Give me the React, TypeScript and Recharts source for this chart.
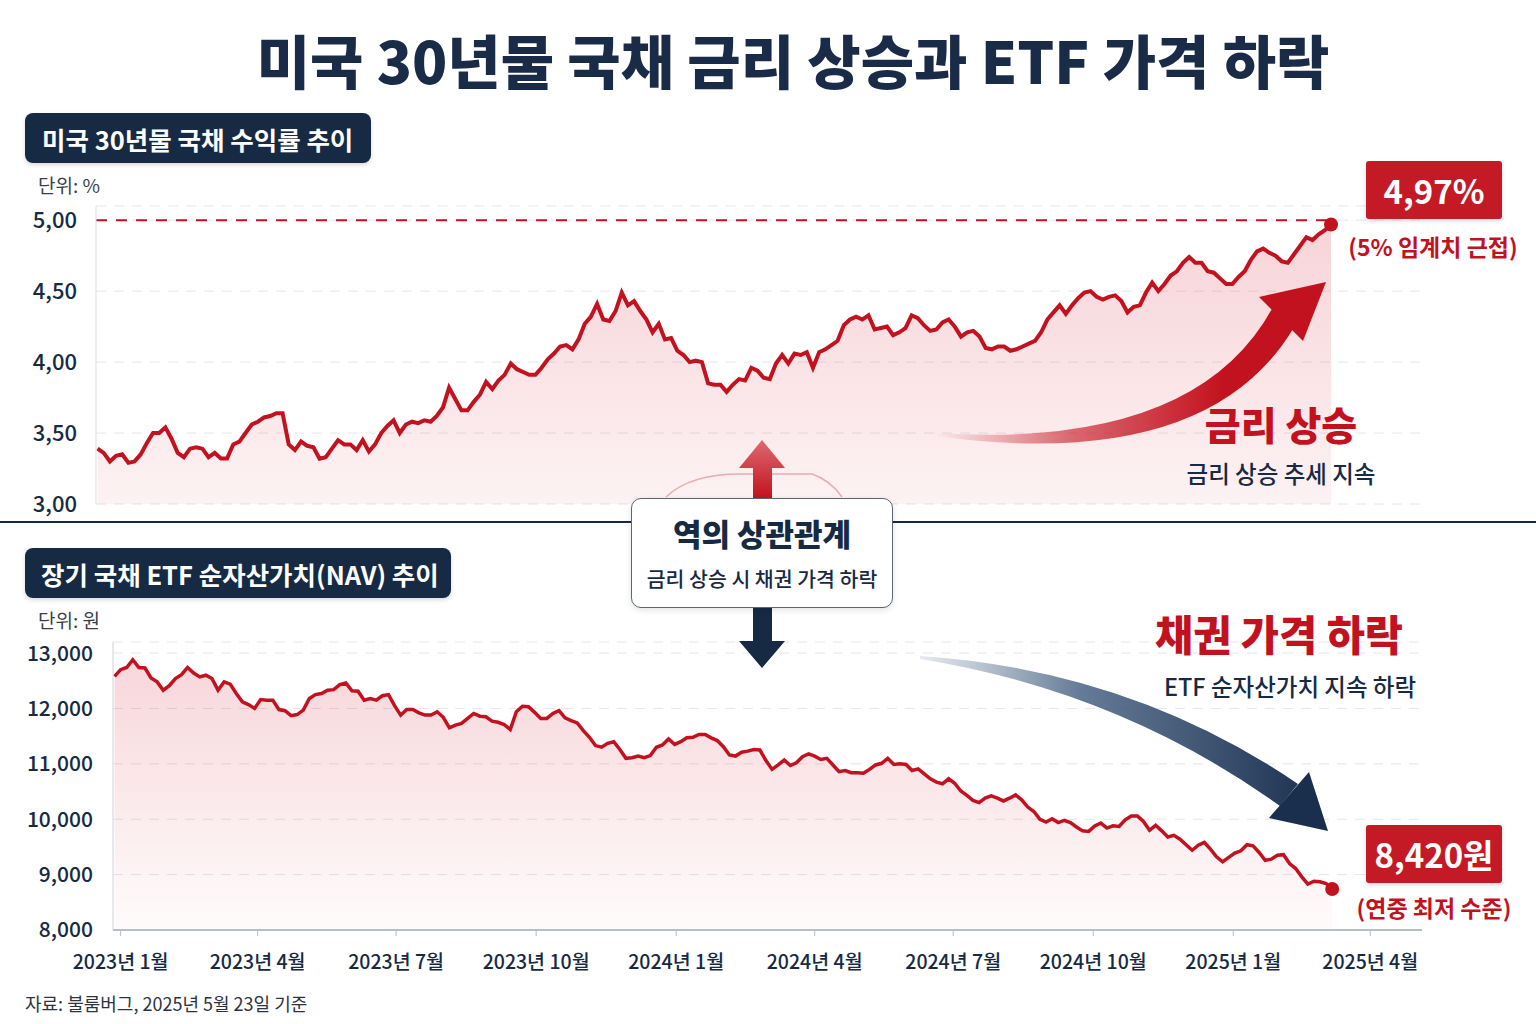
import { Area, AreaChart, CartesianGrid, ReferenceDot, ReferenceLine, XAxis, YAxis } from "recharts";

const FONT = '"Noto Sans CJK KR", "Noto Sans", sans-serif';
const NAVY = "#172a43";
const RED = "#c3121f";

// samples every 4 days, first one on 2022-12-28 (day -4 counted from 2023-01-01)
const START_DAY = -4;
const STEP_DAYS = 4;
const X_DOMAIN = [-5, 855];

// 미국 30년물 국채 수익률 (%)
const yield2023 = [
  3.39, 3.36, 3.3, 3.34, 3.35, 3.29, 3.3, 3.35, 3.43, 3.5,
  3.5, 3.54, 3.46, 3.36, 3.33, 3.39, 3.4, 3.39, 3.33, 3.36,
  3.32, 3.32, 3.42, 3.44, 3.5, 3.56, 3.58, 3.61, 3.62, 3.64,
  3.64, 3.42, 3.38, 3.44, 3.41, 3.4, 3.32, 3.33, 3.39, 3.45,
  3.42, 3.42, 3.38, 3.45, 3.37, 3.42, 3.5, 3.55, 3.59, 3.5,
  3.56, 3.58, 3.57, 3.59, 3.58, 3.62, 3.68, 3.82, 3.74, 3.66,
  3.66, 3.72, 3.77, 3.86, 3.81, 3.87, 3.91, 3.99, 3.95, 3.93,
  3.91, 3.91, 3.96, 4.02, 4.06, 4.11, 4.12, 4.09, 4.16, 4.27,
  4.32, 4.41, 4.3, 4.29, 4.36, 4.49, 4.4, 4.43, 4.36, 4.3,
  4.21, 4.27, 4.16,
];
const yield2024 = [
  4.17, 4.08, 4.05, 4.0, 4.01, 4.0, 3.85,
  3.84, 3.84, 3.79, 3.84, 3.88, 3.87, 3.96, 3.94, 3.89, 3.88,
  3.99, 4.05, 3.99, 4.06, 4.05, 4.07, 3.96, 4.07, 4.09, 4.12,
  4.15, 4.26, 4.3, 4.32, 4.3, 4.33, 4.23, 4.24, 4.25, 4.19,
  4.21, 4.24, 4.33, 4.31, 4.26, 4.22, 4.23, 4.28, 4.3, 4.25,
  4.18, 4.21, 4.22, 4.18, 4.1, 4.09, 4.11, 4.11, 4.08, 4.09,
  4.11, 4.13, 4.15, 4.21, 4.3, 4.35, 4.4, 4.34, 4.4, 4.45,
  4.49, 4.5, 4.46, 4.44, 4.46, 4.47, 4.43, 4.35, 4.39, 4.4,
  4.49, 4.56, 4.5, 4.55, 4.61, 4.64, 4.7, 4.74, 4.7, 4.7,
  4.64, 4.63, 4.59, 4.55,
];
const yield2025 = [
  4.55, 4.6, 4.64, 4.72, 4.78, 4.8, 4.77, 4.75, 4.71, 4.7,
  4.76, 4.82, 4.88, 4.86, 4.9, 4.93, 4.97,
];

// 장기 국채 ETF 순자산가치 (원)
const nav2023 = [
  12580, 12700, 12740, 12880, 12740, 12730, 12550, 12480, 12330, 12410,
  12540, 12610, 12740, 12640, 12570, 12600, 12540, 12330, 12480, 12440,
  12270, 12120, 12070, 12000, 12160, 12150, 12150, 11980, 11960, 11870,
  11890, 11970, 12180, 12250, 12270, 12330, 12340, 12430, 12460, 12320,
  12310, 12150, 12180, 12150, 12230, 12250, 12050, 11880, 11980, 11980,
  11920, 11880, 11880, 11940, 11840, 11650, 11700, 11730, 11820, 11910,
  11860, 11850, 11770, 11750, 11710, 11620, 11940, 12040, 12030, 11930,
  11820, 11820, 11910, 11960, 11830, 11780, 11740, 11600, 11480, 11330,
  11300, 11370, 11400, 11260, 11100, 11110, 11140, 11110, 11150, 11300,
  11340, 11450, 11350,
];
const nav2024 = [
  11400, 11470, 11480, 11530, 11530, 11470, 11420,
  11310, 11160, 11140, 11210, 11230, 11260, 11250, 11060, 10900, 10980,
  11070, 10970, 11020, 11130, 11180, 11140, 11080, 11100, 10980, 10860,
  10880, 10840, 10840, 10830, 10900, 10980, 11010, 11100, 10990, 11000,
  10990, 10880, 10910, 10820, 10730, 10670, 10640, 10730, 10650, 10510,
  10430, 10340, 10300, 10380, 10420, 10380, 10330, 10380, 10440, 10350,
  10220, 10140, 10000, 9950, 10010, 9940, 9980, 9940, 9860, 9790,
  9780, 9880, 9930, 9840, 9880, 9870, 9990, 10060, 10060, 9960,
  9800, 9890, 9790, 9680, 9710, 9640, 9540, 9440, 9530, 9580,
  9460, 9320, 9230, 9310,
];
const nav2025 = [
  9390, 9430, 9540, 9520, 9400, 9260, 9280, 9350, 9360, 9200,
  9110, 8960, 8830, 8880, 8870, 8840, 8740,
];

const tickDates = [
  "2023-01-01", "2023-04-01", "2023-07-01", "2023-10-01", "2024-01-01",
  "2024-04-01", "2024-07-01", "2024-10-01", "2025-01-01", "2025-04-01",
];
const tickLabels = [
  "2023년 1월", "2023년 4월", "2023년 7월", "2023년 10월", "2024년 1월",
  "2024년 4월", "2024년 7월", "2024년 10월", "2025년 1월", "2025년 4월",
];
const yieldTicks = [3, 3.5, 4, 4.5, 5];
const navTicks = [8000, 9000, 10000, 11000, 12000, 13000];
const THRESHOLD = 5;

const dayOf = (iso: string) => (Date.parse(iso) - Date.parse("2023-01-01")) / 86400000;
const tickDays = tickDates.map(dayOf);

const toSeries = (values: number[]) =>
  values.map((value, i) => ({ day: START_DAY + i * STEP_DAYS, value }));

const yieldData = toSeries([...yield2023, ...yield2024, ...yield2025]);
const navData = toSeries([...nav2023, ...nav2024, ...nav2025]);
const lastYield = yieldData[yieldData.length - 1];
const lastNav = navData[navData.length - 1];

function Text({ x, y, size, weight = 500, color = NAVY, align = "center", children }: any) {
  const w = 1400;
  const left = align === "center" ? x - w / 2 : x;
  return (
    <div
      style={{
        position: "absolute",
        left,
        top: y - size / 2,
        width: w,
        fontSize: size,
        lineHeight: `${size}px`,
        fontWeight: weight,
        color,
        textAlign: align,
        whiteSpace: "nowrap",
      }}
    >
      {children}
    </div>
  );
}

function Badge({ x, y, w, h, bg, size, children, align = "center", pad = 0 }: any) {
  return (
    <div
      style={{
        position: "absolute",
        left: x,
        top: y,
        width: w,
        height: h,
        background: bg,
        borderRadius: align === "center" ? 3 : 8,
        color: "#fff",
        fontSize: size,
        fontWeight: 700,
        display: "flex",
        alignItems: "center",
        justifyContent: align === "center" ? "center" : "flex-start",
        paddingLeft: pad,
        boxSizing: "border-box",
        whiteSpace: "nowrap",
        boxShadow: "0 2px 4px rgba(0,0,0,0.15)",
      }}
    >
      {children}
    </div>
  );
}

function Decorations() {
  return (
    <svg width={1536} height={1024} style={{ position: "absolute", left: 0, top: 0, pointerEvents: "none" }}>
      <defs>
        <linearGradient id="redArrow" gradientUnits="userSpaceOnUse" x1={935} y1={0} x2={1320} y2={0}>
          <stop offset="0%" stopColor={RED} stopOpacity={0} />
          <stop offset="35%" stopColor={RED} stopOpacity={0.6} />
          <stop offset="75%" stopColor={RED} stopOpacity={1} />
        </linearGradient>
        <linearGradient id="navyArrow" gradientUnits="userSpaceOnUse" x1={920} y1={0} x2={1320} y2={0}>
          <stop offset="0%" stopColor="#5d7595" stopOpacity={0.15} />
          <stop offset="40%" stopColor="#4a6384" stopOpacity={0.85} />
          <stop offset="100%" stopColor="#1a2f4e" stopOpacity={1} />
        </linearGradient>
        <linearGradient id="upArrow" x1="0" y1="0" x2="0" y2="1">
          <stop offset="0%" stopColor="#dc6a70" />
          <stop offset="100%" stopColor={RED} />
        </linearGradient>
      </defs>

      {/* rising arrow */}
      <path d="M935 433 Q1196 450 1273 307 L1293 329 Q1206 473 935 436 Z" fill="url(#redArrow)" />
      <path d="M1259 297 L1326 282 L1303 341 Z" fill={RED} />

      {/* falling arrow */}
      <path d="M920 656 Q1131 670 1298 784 L1280 806 Q1120 691 920 659 Z" fill="url(#navyArrow)" />
      <path d="M1309 772 L1328 831 L1269 818 Z" fill="#1a2f4e" />

      {/* divider */}
      <rect x={0} y={521} width={1536} height={2} fill={NAVY} />

      {/* faint swoosh near box */}
      <path d="M666 497 Q690 474 740 474 L812 474 Q830 480 842 497" fill="none" stroke={RED} strokeOpacity={0.3} strokeWidth={1.5} />

      {/* up / down arrows around the box */}
      <path d="M762 440 L785 468 L772 468 L772 498 L753 498 L753 468 L739 468 Z" fill="url(#upArrow)" />
      <path d="M753 608 L772 608 L772 641 L785 641 L762 668 L739 641 L753 641 Z" fill={NAVY} />
    </svg>
  );
}

export default function App() {
  return (
    <div
      style={{
        position: "absolute",
        left: 0,
        top: 0,
        width: 1536,
        height: 1024,
        background: "#fff",
        fontFamily: FONT,
        overflow: "hidden",
      }}
    >
      <div style={{ position: "absolute", left: 0, top: 0 }}>
        <AreaChart width={1536} height={520} data={yieldData} margin={{ top: 206, right: 114, bottom: 16, left: 0 }}>
          <defs>
            <linearGradient id="yieldFill" x1="0" y1="0" x2="0" y2="1">
              <stop offset="0%" stopColor="#d92b3f" stopOpacity={0.34} />
              <stop offset="100%" stopColor="#d92b3f" stopOpacity={0.1} />
            </linearGradient>
          </defs>
          <CartesianGrid vertical={false} stroke="#e4e6ea" strokeDasharray="10 8" />
          <XAxis
            type="number"
            dataKey="day"
            domain={X_DOMAIN}
            ticks={tickDays}
            tick={false}
            tickLine={false}
            height={0}
            axisLine={{ stroke: "#dcdfe4", strokeWidth: 1.5 }}
          />
          <YAxis
            domain={[3, 5.1]}
            ticks={yieldTicks}
            width={96}
            tickLine={false}
            tickMargin={13}
            axisLine={{ stroke: "#dcdfe4" }}
            tick={{ fill: NAVY, fontSize: 22, fontWeight: 500 }}
            tickFormatter={(v: number) => v.toFixed(2).replace(".", ",")}
          />
          <ReferenceLine
            segment={[
              { x: X_DOMAIN[0], y: THRESHOLD },
              { x: lastYield.day, y: THRESHOLD },
            ]}
            stroke={RED}
            strokeWidth={2}
            strokeDasharray="11 9"
          />
          <Area
            type="linear"
            dataKey="value"
            stroke={RED}
            strokeWidth={4}
            fill="url(#yieldFill)"
            isAnimationActive={false}
          />
          <ReferenceDot x={lastYield.day} y={lastYield.value} r={7} fill={RED} stroke="none" />
        </AreaChart>
      </div>

      <div style={{ position: "absolute", left: 0, top: 530 }}>
        <AreaChart width={1536} height={494} data={navData} margin={{ top: 112, right: 114, bottom: 44, left: 0 }}>
          <defs>
            <linearGradient id="navFill" x1="0" y1="0" x2="0" y2="1">
              <stop offset="0%" stopColor="#d92b3f" stopOpacity={0.32} />
              <stop offset="100%" stopColor="#d92b3f" stopOpacity={0.03} />
            </linearGradient>
          </defs>
          <CartesianGrid vertical={false} stroke="#e4e6ea" strokeDasharray="10 8" />
          <XAxis
            type="number"
            dataKey="day"
            domain={X_DOMAIN}
            ticks={tickDays}
            interval={0}
            height={50}
            tickSize={6}
            tickMargin={19}
            tickLine={{ stroke: "#b9bdc5" }}
            axisLine={{ stroke: "#b9bdc5", strokeWidth: 2 }}
            tick={{ fill: NAVY, fontSize: 19.5, fontWeight: 500 }}
            tickFormatter={(d: number) => tickLabels[tickDays.indexOf(d)] ?? ""}
          />
          <YAxis
            domain={[8000, 13200]}
            ticks={navTicks}
            width={113}
            tickLine={false}
            tickMargin={14}
            axisLine={{ stroke: "#cfd2d8" }}
            tick={{ fill: NAVY, fontSize: 21, fontWeight: 500 }}
            tickFormatter={(v: number) => v.toLocaleString("en-US")}
          />
          <Area
            type="linear"
            dataKey="value"
            stroke={RED}
            strokeWidth={3.5}
            fill="url(#navFill)"
            isAnimationActive={false}
          />
          <ReferenceDot x={lastNav.day} y={lastNav.value} r={7} fill={RED} stroke="none" />
        </AreaChart>
      </div>

      <Decorations />

      <Text x={793} y={59} size={58} weight={900} color="#1a2b47">
        미국 30년물 국채 금리 상승과 ETF 가격 하락
      </Text>

      <Badge x={25} y={113} w={346} h={50} bg={NAVY} size={25.5} align="left" pad={17}>
        미국 30년물 국채 수익률 추이
      </Badge>
      <Text x={38} y={184} size={19} weight={400} color="#3a3f47" align="left">
        단위: %
      </Text>

      <Badge x={1366} y={161} w={136} h={58} bg="#c41a26" size={33}>
        4,97%
      </Badge>
      <Text x={1433} y={246} size={23} weight={700} color={RED}>
        (5% 임계치 근접)
      </Text>
      <Text x={1281} y={423} size={39} weight={900} color={RED}>
        금리 상승
      </Text>
      <Text x={1281} y={474} size={23.5} weight={500}>
        금리 상승 추세 지속
      </Text>

      <div
        style={{
          position: "absolute",
          left: 631,
          top: 498,
          width: 262,
          height: 110,
          boxSizing: "border-box",
          border: "1.5px solid #5b6675",
          borderRadius: 10,
          background: "#fff",
          boxShadow: "0 2px 6px rgba(0,0,0,0.12)",
        }}
      />
      <Text x={762} y={532} size={31} weight={900}>
        역의 상관관계
      </Text>
      <Text x={762} y={578} size={20.5} weight={500}>
        금리 상승 시 채권 가격 하락
      </Text>

      <Badge x={25} y={548} w={426} h={50} bg={NAVY} size={25.5} align="left" pad={16}>
        장기 국채 ETF 순자산가치(NAV) 추이
      </Badge>
      <Text x={38} y={619} size={19} weight={400} color="#3a3f47" align="left">
        단위: 원
      </Text>

      <Text x={1279} y={634} size={41.5} weight={900} color={RED}>
        채권 가격 하락
      </Text>
      <Text x={1290} y={687} size={23.5} weight={500}>
        ETF 순자산가치 지속 하락
      </Text>

      <Badge x={1366} y={825} w={136} h={58} bg="#c41a26" size={33}>
        8,420원
      </Badge>
      <Text x={1434} y={907} size={23} weight={700} color={RED}>
        (연중 최저 수준)
      </Text>

      <Text x={25} y={1003} size={18} weight={400} color="#2d3440" align="left">
        자료: 불룸버그, 2025년 5월 23일 기준
      </Text>
    </div>
  );
}
